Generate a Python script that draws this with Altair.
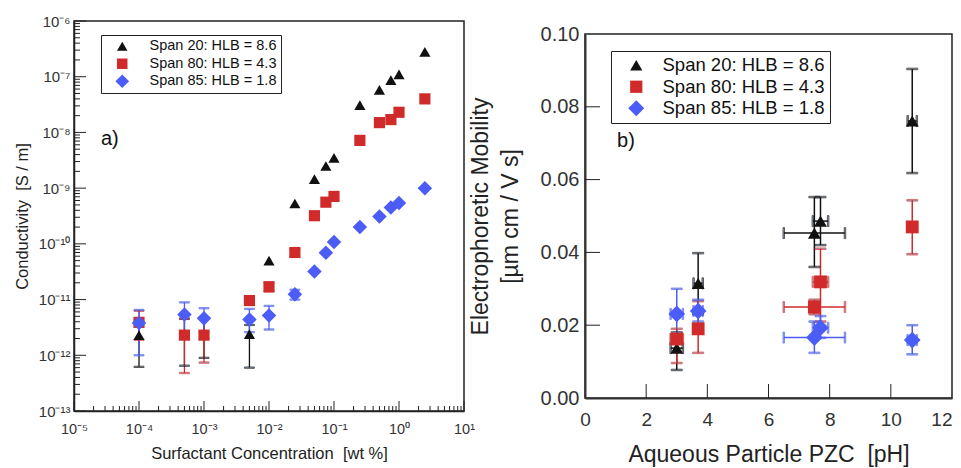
import altair as alt
import pandas as pd

# ---------------- data ----------------
series = ["Span 20: HLB = 8.6", "Span 80: HLB = 4.3", "Span 85: HLB = 1.8"]
colors = ["#111111", "#d12a2a", "#4c5cf6"]
shapes = ["triangle-up", "square", "M0,-1.3L1.3,0L0,1.3L-1.3,0Z"]

# panel a) conductivity vs surfactant concentration
conc = [1e-4, 5e-4, 1e-3, 5e-3, 1e-2, 0.025, 0.05, 0.075, 0.1, 0.25, 0.5, 0.75, 1.0, 2.5]
cond20 = [2.3e-12, 2.4e-12, 2.4e-12, 2.4e-12, 5.0e-11, 5.3e-10, 1.45e-9, 2.5e-9, 3.5e-9, 3.1e-8, 5.8e-8, 8.7e-8, 1.1e-7, 2.8e-7]
cond80 = [3.9e-12, 2.3e-12, 2.3e-12, 9.6e-12, 1.7e-11, 7.0e-11, 3.2e-10, 5.6e-10, 7.1e-10, 7.2e-9, 1.5e-8, 1.7e-8, 2.3e-8, 4.0e-8]
cond85 = [3.8e-12, 5.4e-12, 4.6e-12, 4.4e-12, 5.2e-12, 1.24e-11, 3.2e-11, 6.9e-11, 1.08e-10, 2.0e-10, 3.1e-10, 4.5e-10, 5.4e-10, 1.0e-9]
cond20_lo = [6.2e-13, 6.5e-13, 9.0e-13, 6.0e-13] + [None] * 10
cond20_hi = [4.0e-12, 4.5e-12, 4.5e-12, 3.5e-12] + [None] * 10
cond80_lo = [1.9e-12, 4.8e-13, 7.4e-13, 8.5e-12, 1.4e-11, 6.0e-11] + [None] * 8
cond80_hi = [6.3e-12, 4.6e-12, 4.6e-12, 1.1e-11, 2.0e-11, 8.0e-11] + [None] * 8
cond85_lo = [1.0e-12, 2.4e-12, 2.6e-12, 2.6e-12, 2.9e-12, 1.0e-11] + [None] * 8
cond85_hi = [6.5e-12, 8.9e-12, 7.0e-12, 6.8e-12, 7.7e-12, 1.5e-11] + [None] * 8

# panel b) electrophoretic mobility vs particle PZC
pzc = [3.0, 3.7, 7.5, 7.7, 10.7]
pzc_err = [0.2, 0.15, 1.0, 0.25, 0.15]
mob20 = [0.0137, 0.0315, 0.0453, 0.0486, 0.0761]
mob20_lo = [0.0077, 0.023, 0.036, 0.042, 0.0618]
mob20_hi = [0.018, 0.0398, 0.0552, 0.0552, 0.0904]
mob80 = [0.0162, 0.019, 0.025, 0.0319, 0.047]
mob80_lo = [0.0096, 0.0124, 0.023, 0.021, 0.0395]
mob80_hi = [0.019, 0.0266, 0.027, 0.041, 0.0543]
mob85 = [0.0231, 0.0239, 0.0166, 0.0193, 0.0159]
mob85_lo = [0.016, 0.021, 0.0124, 0.0165, 0.012]
mob85_hi = [0.030, 0.027, 0.021, 0.0225, 0.020]

x_decades = [-5, -4, -3, -2, -1, 0, 1]
y_decades = [-13, -12, -11, -10, -9, -8, -7, -6]
right_xlabels = [0, 2, 4, 6, 8, 10, 12]
right_ylabels = [0, 0.02, 0.04, 0.06, 0.08, 0.10]
right_xticks = [2, 4, 6, 8, 10]
right_yticks = [0.02, 0.04, 0.06, 0.08]

label_a = {"x": 2.6e-5, "y": 7.6e-9, "t": "a)"}
label_b = {"x": 1.05, "y": 0.0706, "t": "b)"}

FONT = "Liberation Sans"

# ---------------- tables ----------------
rows = []
for s, ys, lo, hi in zip(series, [cond20, cond80, cond85],
                         [cond20_lo, cond80_lo, cond85_lo],
                         [cond20_hi, cond80_hi, cond85_hi]):
    for x, y, l, h in zip(conc, ys, lo, hi):
        rows.append({"series": s, "x": x, "y": y, "lo": l, "hi": h})
dfa = pd.DataFrame(rows)
dfa_err = dfa.dropna(subset=["lo"])

rows = []
for s, ys, lo, hi in zip(series, [mob20, mob80, mob85],
                         [mob20_lo, mob80_lo, mob85_lo],
                         [mob20_hi, mob80_hi, mob85_hi]):
    for x, xe, y, l, h in zip(pzc, pzc_err, ys, lo, hi):
        rows.append({"series": s, "x": x, "xl": x - xe, "xh": x + xe,
                     "y": y, "lo": l, "hi": h})
dfb = pd.DataFrame(rows)

sup = str.maketrans("-0123456789", "⁻⁰¹²³⁴⁵⁶⁷⁸⁹")


def log_label_expr(decades):
    expr = "''"
    for e in reversed(decades):
        expr = (f"abs(log(datum.value)/LN10 - ({e})) < 0.1 ? "
                f"'10{str(e).translate(sup)}' : ({expr})")
    return expr


x_major = [10.0 ** e for e in x_decades]
x_minor = [k * 10.0 ** e for e in x_decades[:-1] for k in range(2, 10)]
y_major = [10.0 ** e for e in y_decades]
y_minor = [k * 10.0 ** e for e in y_decades[:-1] for k in range(2, 10)]

color_scale = alt.Scale(domain=series, range=colors)
shape_scale = alt.Scale(domain=series, range=shapes)
err_stroke = alt.Stroke("series:N", scale=color_scale, legend=None)


def xtick(values, xenc, length, height):
    return alt.Chart(pd.DataFrame({"v": values})).mark_rule(color="#222", strokeWidth=1).encode(
        x=xenc("v:Q"), y=alt.value(height), y2=alt.value(height - length))


def ytick(values, yenc, length):
    return alt.Chart(pd.DataFrame({"v": values})).mark_rule(color="#222", strokeWidth=1).encode(
        y=yenc("v:Q"), x=alt.value(0), x2=alt.value(length))


# ---------------- panel a ----------------
WA, HA = 390, 390
xs_a = alt.Scale(type="log", domain=[1e-5, 10], nice=False)
ys_a = alt.Scale(type="log", domain=[1e-13, 1e-6], nice=False)
XT_A = "Surfactant Concentration \u00a0[wt %]"
YT_A = "Conductivity \u00a0[S / m]"
xax_a = alt.Axis(values=x_major, labelExpr=log_label_expr(x_decades),
                 ticks=False, grid=False, labelFontSize=14.5, labelColor="#333",
                 labelPadding=11, titleFontSize=16.5, titleFontWeight="normal",
                 titleColor="#222", titlePadding=10, domainColor="#222",
                 domainWidth=1.5, labelFlush=False, labelOverlap=False)
yax_a = alt.Axis(values=y_major, labelExpr=log_label_expr(y_decades),
                 ticks=False, grid=False, labelFontSize=15, labelColor="#333",
                 labelPadding=4, titleFontSize=16.5, titleFontWeight="normal",
                 titleColor="#222", titlePadding=8, domainColor="#222",
                 domainWidth=1.5, labelFlush=False, labelOverlap=False)


def XA(f):
    return alt.X(f, scale=xs_a, axis=xax_a, title=XT_A)


def YA(f):
    return alt.Y(f, scale=ys_a, axis=yax_a, title=YT_A)


legend_a = alt.Legend(
    title=None, orient="none", legendX=27, legendY=14,
    fillColor="white", strokeColor="#222", padding=4,
    labelFontSize=14.5, labelFont=FONT, labelColor="#111", labelLimit=400,
    symbolSize=110, symbolStrokeWidth=0, rowPadding=2.5, labelOffset=20,
    symbolOffset=10, symbolOpacity=1,
)

a_err = alt.Chart(dfa_err).mark_rule(strokeWidth=1.3).encode(
    x=XA("x:Q"), y=YA("lo:Q"), y2="hi:Q", stroke=err_stroke)
a_cap_lo = alt.Chart(dfa_err).mark_tick(orient="horizontal", size=10, thickness=1.3).encode(
    x=XA("x:Q"), y=YA("lo:Q"), stroke=err_stroke)
a_cap_hi = alt.Chart(dfa_err).mark_tick(orient="horizontal", size=10, thickness=1.3).encode(
    x=XA("x:Q"), y=YA("hi:Q"), stroke=err_stroke)
a_pts = alt.Chart(dfa).mark_point(filled=True, opacity=1, size=125).encode(
    x=XA("x:Q"), y=YA("y:Q"),
    color=alt.Color("series:N", scale=color_scale, legend=legend_a),
    shape=alt.Shape("series:N", scale=shape_scale, legend=legend_a),
)
a_ticks = [
    xtick(x_major, XA, 10, HA),
    xtick(x_minor, XA, 5, HA),
    ytick(y_major, YA, 12),
    ytick(y_minor, YA, 6),
]
a_text = alt.Chart(pd.DataFrame([label_a])).mark_text(
    align="left", baseline="middle", fontSize=20, font=FONT, color="#111").encode(
    x=XA("x:Q"), y=YA("y:Q"), text="t:N")

panel_a = alt.layer(*a_ticks, a_err, a_cap_lo, a_cap_hi, a_pts, a_text).properties(
    width=WA, height=HA)

# ---------------- panel b ----------------
WB, HB = 367, 364
xs_b = alt.Scale(domain=[0, 12], nice=False, zero=False)
ys_b = alt.Scale(domain=[0, 0.10], nice=False)
XT_B = "Aqueous Particle PZC \u00a0[pH]"
YT_B = ["Electrophoretic Mobility", "[µm cm / V s]"]
xax_b = alt.Axis(values=right_xlabels, format="d", ticks=False,
                 grid=False, labelFontSize=19, labelColor="#333",
                 labelAlign=alt.ConditionalAxisLabelAlign(
                     condition={"test": "datum.value >= 12", "value": "right"},
                     value="center"),
                 labelPadding=12, titleFontSize=23, titleFontWeight="normal",
                 titleColor="#222", titlePadding=14, domainColor="#333",
                 domainWidth=2, labelFlush=False)
yax_b = alt.Axis(values=right_ylabels, format=".2f",
                 ticks=False, grid=False, labelFontSize=20, labelColor="#333",
                 labelPadding=6, titleFontSize=23, titleFontWeight="normal",
                 titleColor="#222", titlePadding=18, titleLineHeight=30,
                 domainColor="#333", domainWidth=2, labelFlush=False)


def XB(f):
    return alt.X(f, scale=xs_b, axis=xax_b, title=XT_B)


def YB(f):
    return alt.Y(f, scale=ys_b, axis=yax_b, title=YT_B)


legend_b = alt.Legend(
    title=None, orient="none", legendX=26, legendY=17,
    fillColor="white", strokeColor="#222", padding=5,
    labelFontSize=18.5, labelFont=FONT, labelColor="#111", labelLimit=400,
    symbolSize=150, symbolStrokeWidth=0, rowPadding=2.5, labelOffset=17,
    symbolOffset=11, symbolOpacity=1,
)

b_yerr = alt.Chart(dfb).mark_rule(strokeWidth=1.5).encode(
    x=XB("x:Q"), y=YB("lo:Q"), y2="hi:Q", stroke=err_stroke)
b_ycap_lo = alt.Chart(dfb).mark_tick(orient="horizontal", size=11, thickness=1.5).encode(
    x=XB("x:Q"), y=YB("lo:Q"), stroke=err_stroke)
b_ycap_hi = alt.Chart(dfb).mark_tick(orient="horizontal", size=11, thickness=1.5).encode(
    x=XB("x:Q"), y=YB("hi:Q"), stroke=err_stroke)
b_xerr = alt.Chart(dfb).mark_rule(strokeWidth=1.5).encode(
    x=XB("xl:Q"), x2="xh:Q", y=YB("y:Q"), stroke=err_stroke)
b_xcap_lo = alt.Chart(dfb).mark_tick(orient="vertical", size=11, thickness=1.5).encode(
    x=XB("xl:Q"), y=YB("y:Q"), stroke=err_stroke)
b_xcap_hi = alt.Chart(dfb).mark_tick(orient="vertical", size=11, thickness=1.5).encode(
    x=XB("xh:Q"), y=YB("y:Q"), stroke=err_stroke)
b_pts = alt.Chart(dfb).mark_point(filled=True, opacity=1, size=165).encode(
    x=XB("x:Q"), y=YB("y:Q"),
    color=alt.Color("series:N", scale=color_scale, legend=legend_b),
    shape=alt.Shape("series:N", scale=shape_scale, legend=legend_b),
)
b_ticks = [
    xtick(right_xticks, XB, 14, HB),
    ytick(right_yticks, YB, 15),
]
b_text = alt.Chart(pd.DataFrame([label_b])).mark_text(
    align="left", baseline="middle", fontSize=20, font=FONT, color="#111").encode(
    x=XB("x:Q"), y=YB("y:Q"), text="t:N")

panel_b = alt.layer(*b_ticks, b_yerr, b_ycap_lo, b_ycap_hi, b_xerr, b_xcap_lo,
                    b_xcap_hi, b_pts, b_text).properties(width=WB, height=HB)

spacer = alt.Chart(pd.DataFrame({"a": [0]})).mark_point(opacity=0).encode(
    x=alt.value(0), y=alt.value(0)).properties(
    width=1, height=1, view=alt.ViewBackground(stroke=None))

right_col = alt.vconcat(spacer, panel_b, spacing=-1).resolve_legend(
    color="independent", shape="independent")

chart = alt.hconcat(panel_a, right_col, spacing=-8).resolve_legend(
    color="independent", shape="independent").properties(
    padding={"left": 5, "top": 5, "right": 0, "bottom": 0}).configure(
    font=FONT).configure_view(stroke="#222", strokeWidth=1.5)

chart.save("out.html", embed_options={"renderer": "svg", "actions": False})
